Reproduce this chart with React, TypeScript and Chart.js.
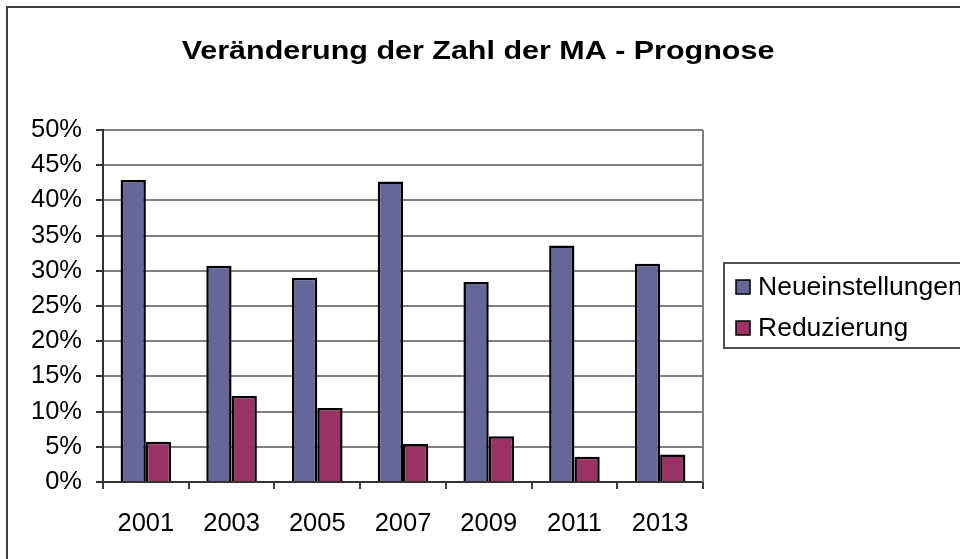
import React, { useEffect, useRef } from "react";
import { Chart, registerables } from "chart.js";

Chart.register(...registerables);

const TITLE = "Veränderung der Zahl der MA - Prognose";
const YEARS = ["2001", "2003", "2005", "2007", "2009", "2011", "2013"];
const NEUEINSTELLUNGEN = [42.9, 30.7, 29.0, 42.7, 28.4, 33.6, 31.0];
const REDUZIERUNG = [5.7, 12.2, 10.5, 5.4, 6.5, 3.6, 3.9];
const SERIES_LABELS = ["Neueinstellungen", "Reduzierung"];
const Y_MAX = 50;
const Y_STEP = 5;

const FONT = "'Liberation Sans', Arial, sans-serif";

const decorPlugin = {
  id: "decor",
  beforeDraw(chart: any) {
    const ctx = chart.ctx;
    ctx.save();
    ctx.fillStyle = "#ffffff";
    ctx.fillRect(0, 0, chart.width, chart.height);
    ctx.restore();
  },
  afterDraw(chart: any) {
    const ctx = chart.ctx;
    const area = chart.chartArea;
    ctx.save();
    // outer frame
    ctx.strokeStyle = "#404040";
    ctx.lineWidth = 2;
    ctx.strokeRect(7, 7, chart.width + 20, chart.height + 20);

    // plot right border
    ctx.strokeStyle = "#808080";
    ctx.lineWidth = 2;
    ctx.beginPath();
    ctx.moveTo(area.right, area.top);
    ctx.lineTo(area.right, area.bottom);
    ctx.stroke();

    // title (horizontally stretched like the reference)
    ctx.fillStyle = "#000000";
    ctx.font = `bold 26.5px ${FONT}`;
    ctx.textAlign = "center";
    ctx.textBaseline = "alphabetic";
    ctx.translate(478, 59);
    ctx.scale(1.15, 1);
    ctx.fillText(TITLE, 0, 0);
    ctx.restore();

    // legend
    ctx.save();
    const lx = 724, ly = 263, lh = 85;
    ctx.strokeStyle = "#505050";
    ctx.lineWidth = 2;
    ctx.strokeRect(lx, ly, chart.width - lx + 20, lh);
    ctx.font = `26.5px ${FONT}`;
    ctx.textAlign = "left";
    ctx.textBaseline = "middle";
    chart.data.datasets.forEach((ds: any, i: number) => {
      const cy = 287 + i * 41;
      ctx.fillStyle = ds.backgroundColor;
      ctx.fillRect(736, cy - 7, 14, 14);
      ctx.strokeStyle = "#000000";
      ctx.lineWidth = 1.5;
      ctx.strokeRect(736, cy - 7, 14, 14);
      ctx.fillStyle = "#000000";
      ctx.fillText(ds.label, 758, cy + 1);
    });
    ctx.restore();
  },
};

export default function App() {
  const ref = useRef<HTMLCanvasElement | null>(null);

  useEffect(() => {
    document.body.style.margin = "0";
    const canvas = ref.current;
    if (!canvas) return;
    const chart = new Chart(canvas, {
      type: "bar",
      data: {
        labels: YEARS,
        datasets: [
          {
            label: SERIES_LABELS[0],
            data: NEUEINSTELLUNGEN,
            backgroundColor: "#666699",
            borderColor: "#000000",
            borderWidth: 2.5,
            categoryPercentage: 0.59,
            barPercentage: 1,
          },
          {
            label: SERIES_LABELS[1],
            data: REDUZIERUNG,
            backgroundColor: "#993366",
            borderColor: "#000000",
            borderWidth: 2.5,
            categoryPercentage: 0.59,
            barPercentage: 1,
          },
        ],
      },
      options: {
        animation: false,
        responsive: false,
        devicePixelRatio: 1,
        layout: { padding: { left: 0, right: 257, top: 130, bottom: 0 } },
        plugins: {
          legend: { display: false },
          title: { display: false },
          tooltip: { enabled: false },
        },
        scales: {
          x: {
            grid: {
              display: true,
              drawOnChartArea: false,
              drawTicks: true,
              tickLength: 7,
              offset: true,
              color: "#404040",
              lineWidth: 2,
            },
            border: { display: true, color: "#333333", width: 2 },
            ticks: {
              color: "#000000",
              font: { family: FONT, size: 25.5 },
              padding: 20,
              maxRotation: 0,
              autoSkip: false,
            },
            afterFit: (scale: any) => {
              scale.height = 77;
            },
          },
          y: {
            min: 0,
            max: Y_MAX,
            grid: {
              color: "#808080",
              lineWidth: 2,
              tickLength: 7,
              tickColor: "#333333",
            },
            border: { display: true, color: "#333333", width: 2 },
            ticks: {
              stepSize: Y_STEP,
              color: "#000000",
              font: { family: FONT, size: 25.5 },
              padding: 14,
              callback: (v: any) => `${v}%`,
            },
            afterFit: (scale: any) => {
              scale.width = 103;
            },
          },
        },
      },
      plugins: [decorPlugin],
    });
    return () => chart.destroy();
  }, []);

  return (
    <div style={{ width: 960, height: 559 }}>
      <canvas ref={ref} width={960} height={559} style={{ display: "block" }} />
    </div>
  );
}
